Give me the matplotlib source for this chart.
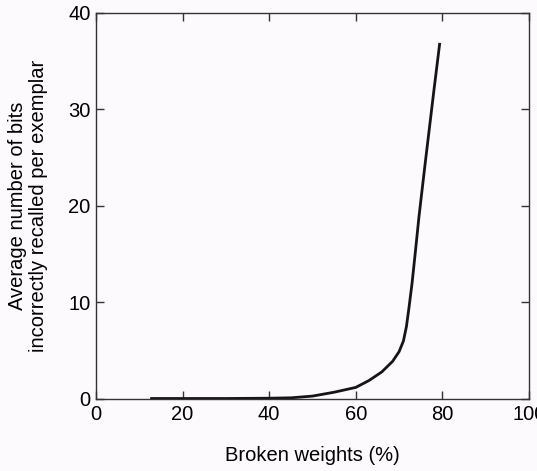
import matplotlib
matplotlib.use("Agg")
import matplotlib.pyplot as plt

# broken weights (%) vs average bits incorrectly recalled per exemplar
broken_pct = [12.5, 20, 30, 40, 45, 50, 55, 60, 63, 66, 68.5, 70, 71, 71.7,
              72.3, 73.0, 73.8, 74.6, 76, 78, 79.4]
bits_wrong = [0.05, 0.05, 0.05, 0.08, 0.12, 0.3, 0.7, 1.2, 1.9, 2.8, 3.9,
              4.9, 6.0, 7.5, 9.5, 12.0, 15.4, 18.9, 24.3, 31.8, 36.9]

x_ticks = [0, 20, 40, 60, 80, 100]
y_ticks = [0, 10, 20, 30, 40]

plt.rcParams["font.family"] = ["Liberation Sans", "DejaVu Sans"]

fig = plt.figure(figsize=(5.37, 4.71), dpi=100, facecolor="#fcfafc")
ax = fig.add_axes([0.1788, 0.1529, 0.8062, 0.8195])
ax.set_facecolor("#fcfafc")

ax.plot(broken_pct, bits_wrong, color="#151515", linewidth=2.0,
        solid_capstyle="butt", solid_joinstyle="round")

ax.set_xlim(0, 100)
ax.set_ylim(0, 40)
ax.set_xticks(x_ticks)
ax.set_yticks(y_ticks)
ax.tick_params(direction="in", length=6, width=1, color="#333333",
               top=True, right=True, labelsize=14.5, pad=4)
for s in ax.spines.values():
    s.set_linewidth(1.0)
    s.set_color("#333333")

ax.set_xlabel("Broken weights (%)", fontsize=14.5)
ax.xaxis.set_label_coords(0.5, -0.123)
ax.set_ylabel("Average number of bits\nincorrectly recalled per exemplar",
              fontsize=14.5, linespacing=1.1)
ax.yaxis.set_label_coords(-0.112, 0.5)

fig.savefig("out.png", dpi=100, facecolor=fig.get_facecolor())
